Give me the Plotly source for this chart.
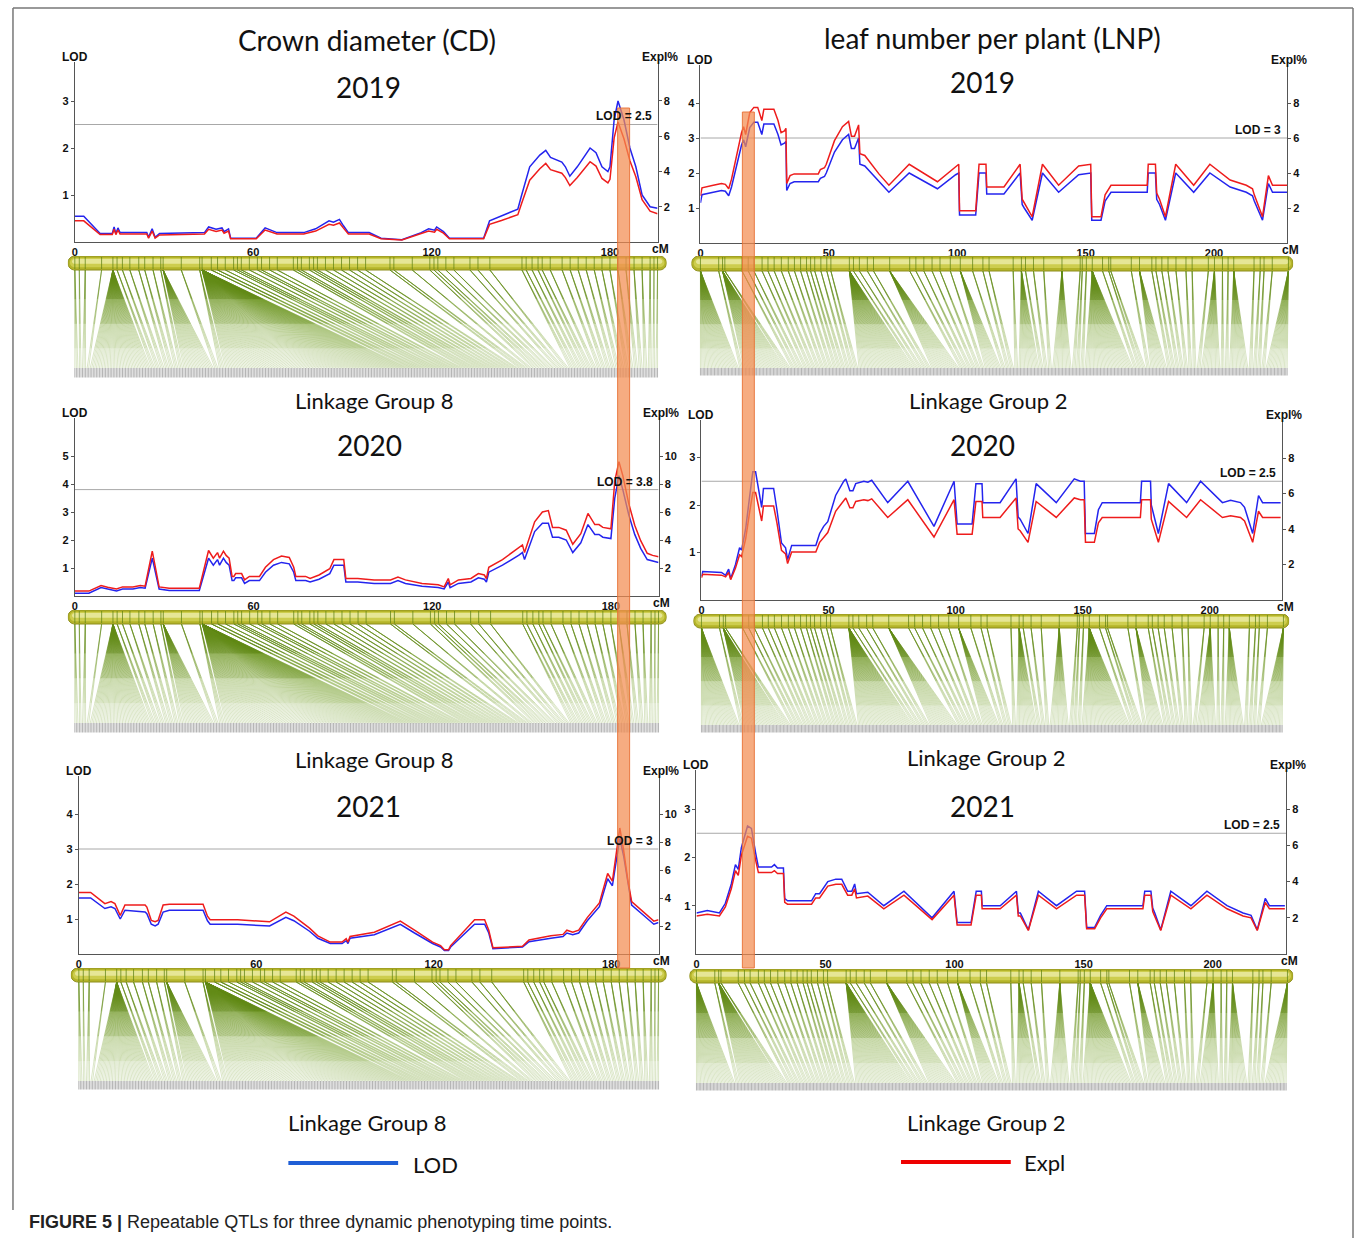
import plotly.graph_objects as go

W, H = 1355, 1238

# ------------------------------------------------------------------ data
# Crown diameter (CD), linkage group 8
CD19_CM = [0, 3, 8.5, 12.6, 13.2, 13.8, 14.5, 15.2, 24.2, 24.8,
           26, 27, 28.5, 38, 43.6, 45, 47.5, 49.5, 50.2, 51.7,
           52.4, 61, 64, 68, 77, 81, 85.5, 87, 89, 90.3,
           92, 99, 103, 110, 116.5, 119, 121, 121.7, 124, 126,
           137.5, 139.5, 143.5, 149, 150.3, 153, 156.4, 158.4, 160, 163.8,
           165, 166.5, 169, 172, 173.3, 175.3, 177.3, 179.3, 180, 181.4,
           182.7, 184.7, 186.7, 188.7, 190.8, 193.5, 196]
CD19_LOD = [0.55, 0.55, 0.18, 0.18, 0.32, 0.18, 0.3, 0.2, 0.2, 0.1,
            0.28, 0.1, 0.18, 0.2, 0.2, 0.32, 0.27, 0.3, 0.22, 0.28,
            0.08, 0.08, 0.3, 0.2, 0.2, 0.28, 0.45, 0.42, 0.48, 0.35,
            0.2, 0.2, 0.08, 0.05, 0.2, 0.28, 0.25, 0.32, 0.22, 0.08,
            0.08, 0.45, 0.55, 0.7, 1.0, 1.6, 1.85, 1.95, 1.8, 1.7,
            1.6, 1.4, 1.6, 1.9, 2.0, 1.9, 1.6, 1.5, 1.6, 2.6,
            3.0, 2.6, 2.0, 1.6, 1.0, 0.75, 0.72]
CD19_EXPL = [1.2, 1.2, 0.42, 0.42, 0.72, 0.42, 0.68, 0.45, 0.45, 0.22,
             0.62, 0.22, 0.4, 0.45, 0.45, 0.72, 0.6, 0.68, 0.5, 0.62,
             0.18, 0.18, 0.68, 0.45, 0.45, 0.62, 1.0, 0.95, 1.08, 0.8,
             0.45, 0.45, 0.18, 0.12, 0.45, 0.62, 0.56, 0.72, 0.5, 0.18,
             0.18, 1.0, 1.22, 1.55, 2.2, 3.5, 4.15, 4.45, 4.1, 3.9,
             3.65, 3.2, 3.65, 4.3, 4.55, 4.3, 3.6, 3.35, 3.55, 5.9,
             6.8, 5.85, 4.6, 3.7, 2.4, 1.75, 1.6]

CD20_CM = [0, 4.7, 8.8, 11, 14, 16, 19.5, 22, 23.6, 26,
           28.3, 31.7, 41.8, 44.9, 46.5, 47.9, 48.6, 49.9, 50.8, 51.8,
           52.8, 53.4, 54, 56, 57, 58.6, 62, 64, 66.7, 69.4,
           72, 73.5, 74.2, 77.5, 79, 82, 85.6, 87, 90.3, 91,
           95, 100.5, 106, 108.5, 111, 116.6, 122, 124, 125.4, 126,
           128.8, 133, 135.5, 137.5, 138.2, 139, 143.6, 149, 150.3, 151,
           152.4, 154.4, 157, 159, 160.4, 162.5, 165, 167.2, 169.9, 172.3,
           174.6, 176, 177.3, 180, 181.3, 182.7, 184, 186, 188, 190,
           192.2, 194, 196]
CD20_LOD = [0.1, 0.1, 0.3, 0.25, 0.18, 0.25, 0.25, 0.3, 0.28, 1.35,
            0.25, 0.2, 0.2, 1.35, 1.1, 1.3, 1.1, 1.35, 1.2, 1.1,
            0.55, 0.55, 0.65, 0.65, 0.45, 0.55, 0.55, 0.85, 1.1, 1.2,
            1.15, 0.85, 0.55, 0.55, 0.5, 0.6, 0.8, 1.1, 1.1, 0.5,
            0.5, 0.45, 0.45, 0.55, 0.45, 0.35, 0.3, 0.25, 0.5, 0.3,
            0.45, 0.5, 0.65, 0.6, 0.5, 0.85, 1.1, 1.45, 1.55, 1.3,
            1.7, 2.3, 2.6, 2.6, 2.1, 2.1, 2.0, 1.55, 1.9, 2.55,
            2.2, 2.2, 2.1, 2.05, 3.5, 4.3, 3.8, 2.9, 2.2, 1.7,
            1.3, 1.25, 1.2]
CD20_EXPL = [0.35, 0.35, 0.75, 0.62, 0.5, 0.65, 0.65, 0.75, 0.7, 3.2,
             0.65, 0.55, 0.55, 3.25, 2.7, 3.1, 2.7, 3.2, 2.9, 2.7,
             1.4, 1.4, 1.6, 1.6, 1.15, 1.4, 1.4, 2.05, 2.6, 2.85,
             2.75, 2.05, 1.4, 1.4, 1.25, 1.5, 1.95, 2.6, 2.6, 1.25,
             1.25, 1.15, 1.15, 1.35, 1.15, 0.9, 0.8, 0.65, 1.25, 0.8,
             1.15, 1.25, 1.6, 1.5, 1.25, 2.05, 2.6, 3.4, 3.65, 3.1,
             3.95, 5.3, 6.0, 6.1, 4.9, 4.9, 4.7, 3.7, 4.45, 5.9,
             5.1, 5.1, 4.9, 4.8, 8.2, 9.6, 8.6, 6.6, 5.05, 3.95,
             3.05, 2.9, 2.8]

CD21_CM = [0, 4, 8.8, 10.9, 12.2, 14, 15.6, 22.4, 23, 24.5,
           25.8, 26.8, 28.5, 30.6, 42, 43.5, 44.4, 53.7, 64.5, 70,
           72.7, 75.4, 78, 80.8, 85, 89, 90.4, 91, 91.7, 99.9,
           108.7, 113.5, 119.6, 122.3, 123.6, 125, 125.7, 133.8, 137.2, 138.6,
           140, 150, 152.2, 159.6, 163.7, 165, 167, 169, 171.9, 176,
           178.8, 180.4, 181.5, 182.9, 184.2, 185.6, 186.9, 191, 194.4, 196]
CD21_LOD = [1.6, 1.6, 1.3, 1.35, 1.3, 1.0, 1.25, 1.2, 1.15, 0.85,
            0.8, 0.85, 1.2, 1.25, 1.25, 0.95, 0.85, 0.85, 0.8, 1.05,
            0.95, 0.8, 0.65, 0.45, 0.3, 0.3, 0.38, 0.3, 0.45, 0.55,
            0.85, 0.6, 0.3, 0.2, 0.1, 0.1, 0.2, 0.85, 0.85, 0.6,
            0.15, 0.2, 0.35, 0.45, 0.5, 0.6, 0.55, 0.6, 0.95, 1.35,
            2.15, 1.95, 2.6, 3.3, 2.8, 2.0, 1.4, 1.1, 0.85, 0.9]
CD21_EXPL = [4.4, 4.4, 3.6, 3.75, 3.6, 2.75, 3.5, 3.5, 3.35, 2.4,
             2.3, 2.4, 3.5, 3.55, 3.55, 2.7, 2.45, 2.45, 2.3, 3.0,
             2.7, 2.3, 1.85, 1.3, 0.85, 0.85, 1.1, 0.85, 1.25, 1.55,
             2.35, 1.7, 0.85, 0.6, 0.3, 0.3, 0.6, 2.45, 2.45, 1.7,
             0.45, 0.55, 1.0, 1.3, 1.4, 1.7, 1.55, 1.7, 2.6, 3.65,
             5.75, 5.2, 6.9, 9.0, 7.4, 5.3, 3.75, 3.0, 2.35, 2.45]

# Leaf number per plant (LNP), linkage group 2
LNP19_CM = [0, 0.6, 5, 8.2, 9.7, 11, 12.1, 13.7, 16, 16.8,
            17.6, 19.2, 20.8, 22.3, 23.9, 24.7, 28.6, 30.2, 31.4, 32.7,
            33.3, 33.6, 34.9, 36.5, 45.9, 46.7, 48.3, 49, 52.2, 55.3,
            57.7, 58.8, 60, 61.6, 62.1, 64, 69.5, 73.4, 81.3, 92.3,
            99.4, 100.6, 100.9, 107.2, 108.5, 111.2, 111.5, 118.2, 124.5, 125.3,
            126.1, 129.2, 133.2, 139.5, 147.3, 152, 152.4, 156, 157.6, 159.9,
            174, 174.4, 177.2, 177.7, 178.8, 181.1, 185.1, 192.1, 198.4, 206.3,
            212.6, 215, 215.7, 218.9, 221.2, 222.8, 228.5]
LNP19_LOD = [1.15, 1.38, 1.45, 1.5, 1.48, 1.35, 1.6, 2.1, 2.8, 2.95,
             2.75, 3.3, 3.45, 3.45, 3.1, 3.4, 3.4, 3.1, 2.8, 2.85,
             2.9, 1.5, 1.7, 1.75, 1.75, 1.85, 1.9, 2.0, 2.6, 2.95,
             3.1, 2.7, 2.7, 3.0, 2.25, 2.2, 1.75, 1.45, 2.0, 1.55,
             1.95, 2.0, 0.8, 0.8, 2.0, 2.0, 1.4, 1.4, 2.0, 1.1,
             1.0, 0.65, 2.0, 1.45, 1.95, 2.0, 0.65, 0.65, 1.2, 1.45,
             1.45, 2.0, 2.0, 1.25, 1.1, 0.65, 2.0, 1.45, 2.0, 1.6,
             1.45, 1.35, 1.2, 0.65, 1.7, 1.45, 1.45]
LNP19_EXPL = [2.7, 3.15, 3.3, 3.4, 3.35, 3.1, 3.65, 4.75, 6.3, 6.65,
              6.2, 7.45, 7.75, 7.75, 7.0, 7.65, 7.65, 7.0, 6.3, 6.4,
              6.55, 3.4, 3.85, 3.95, 3.95, 4.2, 4.3, 4.5, 5.85, 6.65,
              6.95, 6.1, 6.1, 6.75, 5.1, 5.0, 3.95, 3.3, 4.5, 3.5,
              4.4, 4.5, 1.85, 1.85, 4.5, 4.5, 3.2, 3.2, 4.5, 2.5,
              2.3, 1.5, 4.5, 3.3, 4.4, 4.5, 1.5, 1.5, 2.75, 3.3,
              3.3, 4.5, 4.5, 2.85, 2.5, 1.5, 4.5, 3.3, 4.5, 3.6,
              3.3, 3.1, 2.75, 1.5, 3.85, 3.3, 3.3]

LNP20_CM = [0, 0.5, 7.9, 9.5, 10.7, 11.5, 13.4, 15, 15.8, 17.4,
            18.9, 20.2, 21.3, 22.9, 23.7, 24.4, 28.4, 29.7, 31.5, 33.1,
            33.9, 35.5, 45, 46.5, 48.1, 49.7, 52.8, 56, 56.8, 58.4,
            59.6, 60.7, 63.9, 65.5, 67, 73.3, 81.2, 91.5, 99.4, 100.6,
            106.5, 108, 110.4, 110.7, 117.5, 123.8, 124.6, 125.4, 128.5, 131.7,
            139.6, 146.7, 149.1, 150.6, 151.1, 154.6, 156.2, 157.7, 172.7, 173.2,
            176.7, 177, 179.8, 183.8, 190.9, 196.4, 205, 208.2, 212.1, 213.7,
            216.9, 219.2, 220.8, 227.9]
LNP20_LOD = [0.5, 0.6, 0.58, 0.52, 0.65, 0.45, 0.75, 1.1, 1.05, 1.5,
             2.15, 2.7, 2.7, 2.2, 1.95, 2.35, 2.35, 1.9, 1.2, 1.1,
             0.85, 1.15, 1.15, 1.4, 1.55, 1.65, 2.2, 2.5, 2.55, 2.3,
             2.3, 2.45, 2.5, 2.48, 2.52, 2.05, 2.5, 1.55, 2.5, 1.6,
             1.6, 2.45, 2.45, 2.05, 2.05, 2.55, 1.75, 1.7, 1.4, 2.45,
             2.05, 2.55, 2.5, 2.5, 1.4, 1.4, 1.9, 2.05, 2.05, 2.5,
             2.5, 2.0, 1.4, 2.45, 2.05, 2.5, 2.05, 2.1, 2.05, 1.95,
             1.4, 2.2, 2.05, 2.05]
LNP20_EXPL = [1.25, 1.45, 1.4, 1.3, 1.55, 1.15, 1.8, 2.55, 2.45, 3.45,
              4.9, 6.05, 6.05, 5.0, 4.45, 5.3, 5.3, 4.35, 2.8, 2.6,
              2.05, 2.7, 2.7, 3.25, 3.55, 3.8, 5.0, 5.65, 5.75, 5.2,
              5.2, 5.55, 5.65, 5.6, 5.7, 4.65, 5.65, 3.55, 5.65, 3.7,
              3.7, 5.55, 5.55, 4.65, 4.65, 5.75, 4.0, 3.9, 3.25, 5.55,
              4.65, 5.75, 5.65, 5.65, 3.25, 3.25, 4.35, 4.65, 4.65, 5.65,
              5.65, 4.55, 3.25, 5.55, 4.65, 5.65, 4.65, 4.75, 4.65, 4.45,
              3.25, 5.0, 4.65, 4.65]

LNP21_CM = [0, 4.2, 8.9, 11.2, 13.5, 15.1, 16.2, 17.4, 19.8, 21.3,
            22.9, 24, 29.1, 30.2, 31.4, 33.7, 34.2, 35.3, 44.6, 46.2,
            47.7, 50.9, 54, 56.3, 58.6, 60.2, 61.3, 62, 66.4, 72.6,
            80.4, 91.3, 99.8, 101, 106.4, 108.4, 110.4, 110.7, 117.7, 124,
            124.7, 125.5, 128.6, 132.5, 139.5, 147.3, 150.4, 151.2, 154.3, 156.6,
            159, 173, 173.7, 176.1, 176.8, 177.6, 179.9, 183.8, 191.6, 197.8,
            205.6, 211.8, 214.9, 217.3, 220.4, 222, 228]
LNP21_LOD = [0.85, 0.9, 0.85, 1.05, 1.45, 1.85, 1.75, 2.2, 2.65, 2.6,
             2.1, 1.8, 1.8, 1.85, 1.78, 1.78, 1.15, 1.1, 1.1, 1.25,
             1.25, 1.5, 1.55, 1.55, 1.3, 1.3, 1.45, 1.25, 1.28, 1.0,
             1.3, 0.75, 1.3, 0.65, 0.65, 1.3, 1.3, 1.0, 1.0, 1.3,
             0.85, 0.85, 0.5, 1.3, 1.0, 1.3, 1.3, 0.55, 0.55, 0.8,
             1.0, 1.0, 1.3, 1.3, 0.95, 0.85, 0.5, 1.3, 1.0, 1.3,
             1.0, 0.85, 0.8, 0.5, 1.15, 1.0, 1.0]
LNP21_EXPL = [2.1, 2.2, 2.1, 2.6, 3.6, 4.6, 4.35, 5.45, 6.5, 6.4,
              5.2, 4.5, 4.5, 4.6, 4.45, 4.45, 2.85, 2.75, 2.75, 3.1,
              3.1, 3.75, 3.85, 3.85, 3.25, 3.25, 3.6, 3.1, 3.2, 2.5,
              3.25, 1.9, 3.25, 1.6, 1.6, 3.25, 3.25, 2.5, 2.5, 3.25,
              2.1, 2.1, 1.3, 3.25, 2.5, 3.25, 3.25, 1.4, 1.4, 2.0,
              2.5, 2.5, 3.25, 3.25, 2.35, 2.1, 1.3, 3.25, 2.5, 3.25,
              2.5, 2.1, 2.0, 1.3, 2.85, 2.5, 2.5]

# Genetic map: marker positions (cM) and number of markers at each position
LG8_POS = [0, 1.5, 3.5, 9, 12.8, 14.2, 16, 18.5, 21.5, 23.5,
           26.3, 28.9, 29.7, 35.8, 42, 42.8, 45.9, 48, 50.6, 53.4,
           54.7, 56, 58.7, 61.4, 62.8, 65.5, 68.1, 73.5, 74.9, 76.2,
           78.9, 80.3, 81.6, 84.3, 87, 89.7, 92.4, 95.1, 97.8, 106,
           107.3, 113.5, 119.4, 120.8, 122.1, 124.8, 127.5, 132.9, 135.6, 139.6,
           150.4, 151.8, 153.8, 155.8, 157.2, 159.9, 163.9, 166.6, 169.3, 172,
           174.7, 177.3, 180, 182.7, 185.4, 188.1, 190.8, 193.5, 194.8, 196]
LG8_CNT = [3, 2, 3, 2, 40, 3, 3, 3, 3, 3,
           3, 3, 20, 3, 4, 120, 4, 4, 3, 3,
           3, 3, 3, 3, 3, 3, 3, 3, 3, 3,
           3, 3, 3, 3, 3, 3, 3, 3, 3, 3,
           3, 3, 3, 3, 3, 3, 3, 3, 3, 3,
           3, 3, 3, 3, 3, 3, 3, 3, 3, 3,
           3, 3, 3, 3, 3, 3, 3, 3, 2, 2]

LG2_POS = [0, 7.1, 8.6, 9.5, 16.2, 18.6, 20.8, 24, 26.3, 28.7,
           31.5, 34.2, 36.6, 39, 41.3, 42.9, 44.5, 46.9, 49.2, 50.8,
           58, 59.6, 61.9, 65, 67.4, 73.7, 81.5, 83.9, 87, 90.2,
           93.3, 97.3, 101.2, 106, 110, 112.4, 121.8, 125, 126.6, 129.7,
           133.7, 140.8, 147.9, 148.7, 150.3, 152.6, 156.6, 159, 159.8, 167.8,
           171, 175.8, 177.4, 179.7, 182.1, 185.2, 189.1, 191.5, 197.8, 200.2,
           203.3, 205.5, 207.7, 215.6, 218, 219.5, 222.7, 229]
LG2_CNT = [28, 3, 30, 4, 3, 3, 3, 3, 3, 3,
           3, 3, 3, 3, 3, 3, 3, 3, 3, 3,
           40, 3, 3, 3, 3, 20, 3, 3, 3, 3,
           3, 3, 12, 3, 3, 3, 3, 15, 3, 3,
           3, 14, 3, 3, 3, 35, 3, 3, 3, 3,
           12, 3, 3, 3, 3, 3, 3, 3, 3, 14,
           3, 3, 14, 3, 3, 3, 3, 16]

CD_XTICKS = [0, 60, 120, 180]
LNP_XTICKS = [0, 50, 100, 150, 200]
TRAITS = ["Crown diameter (CD)", "leaf number per plant (LNP)"]
YEARS = ["2019", "2020", "2021"]
GROUPS = ["Linkage Group 8", "Linkage Group 2"]

# ------------------------------------------------------------------ layout geometry (pixels)
NARROW = "Liberation Sans Narrow, Arial Narrow, Liberation Sans, Arial, sans-serif"
SANS = "Lato, Carlito, Open Sans, sans-serif"
BLUE = "#2424EE"
RED = "#EE1C1C"

panels = [
    dict(cm=CD19_CM, lod=CD19_LOD, expl=CD19_EXPL, thr=2.5, xt=CD_XTICKS,
         lt=[1, 2, 3], et=[2, 4, 6, 8], pos=LG8_POS, cnt=LG8_CNT, year=YEARS[0], lg=GROUPS[0],
         x0=72, x1=656, xmax=196, yb=242, yt=62, lpx=47, epx=17.65,
         bar=(65, 665, 256, 270), fb=368, bb=378, yxy=(366, 87), lxy=(372, 401)),
    dict(cm=CD20_CM, lod=CD20_LOD, expl=CD20_EXPL, thr=3.8, xt=CD_XTICKS,
         lt=[1, 2, 3, 4, 5], et=[2, 4, 6, 8, 10], pos=LG8_POS, cnt=LG8_CNT, year=YEARS[1], lg=GROUPS[0],
         x0=72, x1=657, xmax=196, yb=596, yt=418, lpx=28, epx=14,
         bar=(65, 665, 610, 624), fb=723, bb=733, yxy=(367, 445), lxy=(372, 760)),
    dict(cm=CD21_CM, lod=CD21_LOD, expl=CD21_EXPL, thr=3.0, xt=CD_XTICKS,
         lt=[1, 2, 3, 4], et=[2, 4, 6, 8, 10], pos=LG8_POS, cnt=LG8_CNT, year=YEARS[2], lg=GROUPS[0],
         x0=76, x1=657, xmax=196, yb=954, yt=776, lpx=35, epx=14,
         bar=(68, 665, 968, 982), fb=1081, bb=1090, yxy=(366, 806), lxy=(365, 1122)),
    dict(cm=LNP19_CM, lod=LNP19_LOD, expl=LNP19_EXPL, thr=3.0, xt=LNP_XTICKS,
         lt=[1, 2, 3, 4], et=[2, 4, 6, 8], pos=LG2_POS, cnt=LG2_CNT, year=YEARS[0], lg=GROUPS[1],
         x0=699, x1=1287, xmax=228.5, yb=243, yt=65, lpx=35, epx=17.5,
         bar=(690, 1293, 256, 271), fb=368, bb=376, yxy=(982, 82), lxy=(987, 401)),
    dict(cm=LNP20_CM, lod=LNP20_LOD, expl=LNP20_EXPL, thr=2.5, xt=LNP_XTICKS,
         lt=[1, 2, 3], et=[2, 4, 6, 8], pos=LG2_POS, cnt=LG2_CNT, year=YEARS[1], lg=GROUPS[1],
         x0=700, x1=1282, xmax=228.5, yb=600, yt=420, lpx=47.5, epx=17.75,
         bar=(692, 1289, 614, 628), fb=725, bb=733, yxy=(982, 445), lxy=(985, 757)),
    dict(cm=LNP21_CM, lod=LNP21_LOD, expl=LNP21_EXPL, thr=2.5, xt=LNP_XTICKS,
         lt=[1, 2, 3], et=[2, 4, 6, 8], pos=LG2_POS, cnt=LG2_CNT, year=YEARS[2], lg=GROUPS[1],
         x0=695, x1=1286, xmax=228.5, yb=954, yt=770, lpx=48.3, epx=18.1,
         bar=(688, 1293, 969, 983), fb=1083, bb=1091, yxy=(982, 806), lxy=(985, 1122)),
]


def px(x):
    return x / W


def py(y):
    return 1 - y / H


def aname(k, n):
    return f"{k}axis" if n == 1 else f"{k}axis{n}"


def aref(k, n):
    return k if n == 1 else f"{k}{n}"


def rrect(xl, xr, yb, yt, rx):
    yc = (yb + yt) / 2
    ry = (yt - yb) / 2
    k = 0.5523
    return (f"M{xl+rx},{yt} L{xr-rx},{yt} "
            f"C{xr-rx+k*rx},{yt} {xr},{yc+k*ry} {xr},{yc} "
            f"C{xr},{yc-k*ry} {xr-rx+k*rx},{yb} {xr-rx},{yb} "
            f"L{xl+rx},{yb} "
            f"C{xl+rx-k*rx},{yb} {xl},{yc-k*ry} {xl},{yc} "
            f"C{xl},{yc+k*ry} {xl+rx-k*rx},{yt} {xl+rx},{yt} Z")


fig = go.Figure()
layout = dict(
    width=W, height=H, margin=dict(l=0, r=0, t=0, b=0),
    paper_bgcolor="white", plot_bgcolor="rgba(0,0,0,0)",
    showlegend=False, hovermode=False,
)
shapes = []
annotations = []

tickfont = dict(family=NARROW, size=11, color="#111", weight="bold")
# fan gradient: (start fraction, end fraction, colour)
FAN_STEPS = [(0.0, 0.3, "rgba(98,138,22,0.85)"),
             (0.3, 0.55, "rgba(110,150,35,0.7)"),
             (0.55, 0.8, "rgba(125,165,55,0.55)"),
             (0.8, 1.0, "rgba(140,175,80,0.45)")]

for k, p in enumerate(panels):
    xa, xc = 2 * k + 1, 2 * k + 2
    ya, ye, yc = 3 * k + 1, 3 * k + 2, 3 * k + 3
    lod_top = (p["yb"] - p["yt"]) / p["lpx"]
    expl_top = (p["yb"] - p["yt"]) / p["epx"]

    layout[aname("x", xa)] = dict(
        domain=[px(p["x0"]), px(p["x1"])], range=[0, p["xmax"]], anchor=aref("y", ya),
        tickvals=p["xt"], ticks="", showline=True, linecolor="#555", linewidth=1,
        showgrid=False, zeroline=False, tickfont=tickfont, fixedrange=True)
    layout[aname("y", ya)] = dict(
        domain=[py(p["yb"]), py(p["yt"])], range=[0, lod_top], anchor=aref("x", xa),
        tickvals=p["lt"], ticks="outside", ticklen=3, tickcolor="#555",
        showline=True, linecolor="#555", linewidth=1,
        showgrid=False, zeroline=False, tickfont=tickfont, fixedrange=True)
    layout[aname("y", ye)] = dict(
        overlaying=aref("y", ya), side="right", range=[0, expl_top], anchor=aref("x", xa),
        tickvals=p["et"], ticks="outside", ticklen=3, tickcolor="#555",
        showline=True, linecolor="#555", linewidth=1,
        showgrid=False, zeroline=False, tickfont=tickfont, fixedrange=True)

    # chromosome + fan axes (same cM scale as the LOD plot)
    s = (p["x1"] - p["x0"]) / p["xmax"]
    bx0, bx1, btop, bbot = p["bar"]
    cx_lo = (bx0 - p["x0"]) / s
    cx_hi = (bx1 - p["x0"]) / s
    total = p["bb"] - btop
    layout[aname("x", xc)] = dict(domain=[px(bx0), px(bx1)], range=[cx_lo, cx_hi],
                                  anchor=aref("y", yc), visible=False, fixedrange=True)
    layout[aname("y", yc)] = dict(domain=[py(p["bb"]), py(btop)], range=[0, total],
                                  anchor=aref("x", xc), visible=False, fixedrange=True)

    # threshold line
    shapes.append(dict(type="line", xref=aref("x", xa), yref=aref("y", ya),
                       x0=0, x1=p["xmax"], y0=p["thr"], y1=p["thr"],
                       line=dict(color="#A8A8A8", width=1), layer="below"))
    thr_txt = f"LOD = {p['thr']:g}"
    annotations.append(dict(xref=aref("x", xa), yref=aref("y", ya), x=p["xmax"], y=p["thr"],
                            text=f"<b>{thr_txt}</b>", showarrow=False, xanchor="right",
                            yanchor="bottom", xshift=-4, yshift=-1,
                            font=dict(family=NARROW, size=12, color="#111")))

    # curves
    fig.add_trace(go.Scatter(x=p["cm"], y=p["lod"], mode="lines",
                             line=dict(color=BLUE, width=1.5),
                             xaxis=aref("x", xa), yaxis=aref("y", ya)))
    fig.add_trace(go.Scatter(x=p["cm"], y=p["expl"], mode="lines",
                             line=dict(color=RED, width=1.5),
                             xaxis=aref("x", xa), yaxis=aref("y", ye)))

    # chromosome bar
    bar_lo = p["bb"] - bbot
    bar_hi = total
    bh = bar_hi - bar_lo
    rx = (bh / 2) / s
    shapes.append(dict(type="path", xref=aref("x", xc), yref=aref("y", yc),
                       path=rrect(cx_lo, cx_hi, bar_lo, bar_hi, rx),
                       fillcolor="#B4B42A", line=dict(color="#8E8E1C", width=1), layer="below"))
    shapes.append(dict(type="path", xref=aref("x", xc), yref=aref("y", yc),
                       path=rrect(cx_lo + 0.3 * rx, cx_hi - 0.3 * rx, bar_lo + 0.2 * bh, bar_hi - 0.15 * bh, rx * 0.7),
                       fillcolor="#CDCD4E", line=dict(width=0), layer="below"))
    shapes.append(dict(type="path", xref=aref("x", xc), yref=aref("y", yc),
                       path=rrect(cx_lo + 0.6 * rx, cx_hi - 0.6 * rx, bar_lo + 0.45 * bh, bar_hi - 0.22 * bh, rx * 0.4),
                       fillcolor="#E6E696", line=dict(width=0), layer="below"))

    # marker ticks on bar
    tx, ty = [], []
    for m in p["pos"]:
        tx += [m, m, None]
        ty += [bar_lo + 1, bar_hi - 1, None]
    fig.add_trace(go.Scatter(x=tx, y=ty, mode="lines",
                             line=dict(color="rgba(95,130,20,0.75)", width=1),
                             xaxis=aref("x", xc), yaxis=aref("y", yc)))

    # fan lines from map position to evenly spaced marker labels
    markers = []
    for m, c in zip(p["pos"], p["cnt"]):
        markers += [m] * c
    n = len(markers)
    band_h = p["bb"] - p["fb"]
    segs = [([], []) for _ in FAN_STEPS]
    gx, gy = [], []
    for i, m in enumerate(markers):
        xb = p["xmax"] * i / (n - 1)
        for j, (t0, t1, _) in enumerate(FAN_STEPS):
            xa0 = m + (xb - m) * t0
            xa1 = m + (xb - m) * t1
            y0 = bar_lo + (band_h - bar_lo) * t0
            y1 = bar_lo + (band_h - bar_lo) * t1
            segs[j][0].extend([xa0, xa1, None])
            segs[j][1].extend([y0, y1, None])
        gx += [xb, xb, None]
        gy += [0.5, band_h, None]
    for j, (_, _, col) in enumerate(FAN_STEPS):
        fig.add_trace(go.Scatter(x=segs[j][0], y=segs[j][1], mode="lines",
                                 line=dict(color=col, width=0.7),
                                 xaxis=aref("x", xc), yaxis=aref("y", yc)))
    fig.add_trace(go.Scatter(x=gx, y=gy, mode="lines",
                             line=dict(color="rgba(120,120,120,0.55)", width=1),
                             xaxis=aref("x", xc), yaxis=aref("y", yc)))

    # axis labels and texts
    annotations.append(dict(xref="paper", yref="paper", x=px(p["x0"]), y=py(p["yt"] - 5),
                            text="<b>LOD</b>", showarrow=False, xanchor="center", yanchor="middle",
                            font=dict(family=NARROW, size=12, color="#111")))
    annotations.append(dict(xref="paper", yref="paper", x=px(p["x1"] + 2), y=py(p["yt"] - 5),
                            text="<b>Expl%</b>", showarrow=False, xanchor="center", yanchor="middle",
                            font=dict(family=NARROW, size=12, color="#111")))
    annotations.append(dict(xref="paper", yref="paper", x=px(p["x1"] + 3), y=py(p["yb"] + 7),
                            text="<b>cM</b>", showarrow=False, xanchor="center", yanchor="middle",
                            font=dict(family=NARROW, size=12, color="#111")))
    annotations.append(dict(xref="paper", yref="paper", x=px(p["yxy"][0]), y=py(p["yxy"][1]),
                            text=p["year"], showarrow=False, xanchor="center", yanchor="middle",
                            font=dict(family=SANS, size=28, color="#111")))
    annotations.append(dict(xref="paper", yref="paper", x=px(p["lxy"][0]), y=py(p["lxy"][1]),
                            text=p["lg"], showarrow=False, xanchor="center", yanchor="middle",
                            font=dict(family=SANS, size=22, color="#111")))

# trait titles
annotations.append(dict(xref="paper", yref="paper", x=px(365), y=py(40), text=TRAITS[0],
                        showarrow=False, xanchor="center", yanchor="middle",
                        font=dict(family=SANS, size=28, color="#111")))
annotations.append(dict(xref="paper", yref="paper", x=px(992), y=py(38), text=TRAITS[1],
                        showarrow=False, xanchor="center", yanchor="middle",
                        font=dict(family=SANS, size=28, color="#111")))

# QTL highlight bands
shapes.append(dict(type="rect", xref="paper", yref="paper", x0=px(616), x1=px(628),
                   y0=py(968), y1=py(108), fillcolor="rgba(242,140,80,0.72)",
                   line=dict(color="rgba(232,112,52,0.9)", width=1), layer="above"))
shapes.append(dict(type="rect", xref="paper", yref="paper", x0=px(741), x1=px(753),
                   y0=py(968), y1=py(112), fillcolor="rgba(242,140,80,0.72)",
                   line=dict(color="rgba(232,112,52,0.9)", width=1), layer="above"))

# legend
shapes.append(dict(type="line", xref="paper", yref="paper", x0=px(286), x1=px(396),
                   y0=py(1163), y1=py(1163), line=dict(color="#1F5FD6", width=4)))
annotations.append(dict(xref="paper", yref="paper", x=px(409), y=py(1164), text="LOD",
                        showarrow=False, xanchor="left", yanchor="middle",
                        font=dict(family=SANS, size=22, color="#111")))
shapes.append(dict(type="line", xref="paper", yref="paper", x0=px(900), x1=px(1010),
                   y0=py(1162), y1=py(1162), line=dict(color="#EE0000", width=4)))
annotations.append(dict(xref="paper", yref="paper", x=px(1021), y=py(1162), text="Expl",
                        showarrow=False, xanchor="left", yanchor="middle",
                        font=dict(family=SANS, size=22, color="#111")))

# caption
annotations.append(dict(xref="paper", yref="paper", x=px(24), y=py(1222),
                        text="<b>FIGURE 5 |</b> Repeatable QTLs for three dynamic phenotyping time points.",
                        showarrow=False, xanchor="left", yanchor="middle",
                        font=dict(family=NARROW, size=18, color="#222")))

# frame
for (a, b, c, d) in [(10, 8, 10, 1210), (10, 8, 1353, 8), (1353, 8, 1353, 1238)]:
    shapes.append(dict(type="line", xref="paper", yref="paper", x0=px(a), y0=py(b),
                       x1=px(c), y1=py(d), line=dict(color="#777", width=1.5)))

layout["shapes"] = shapes
layout["annotations"] = annotations
fig.update_layout(**layout)
fig.write_html("out.html")
